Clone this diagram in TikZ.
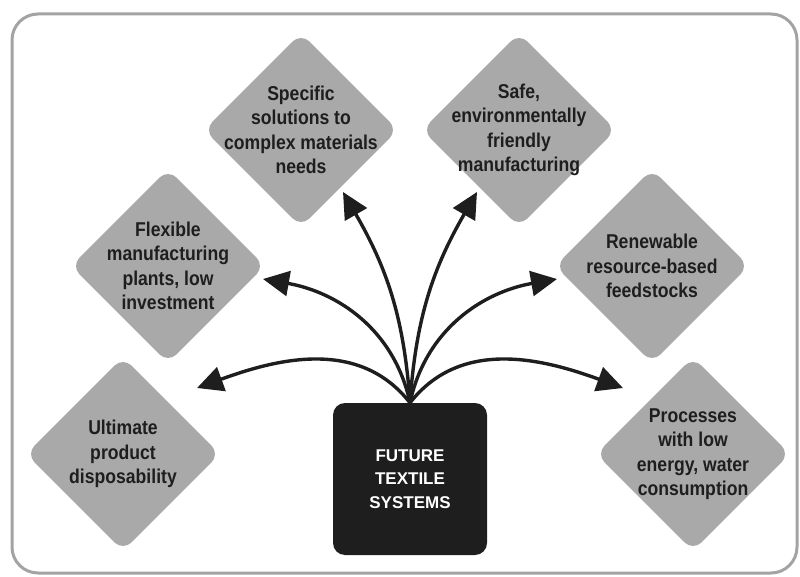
\documentclass[tikz,border=0pt]{standalone}
\usepackage{fontspec}
\setmainfont{Liberation Sans}
\newfontfamily\condsans[FakeStretch=0.88]{Liberation Sans}
\usetikzlibrary{shapes.geometric, arrows.meta}

\definecolor{framegray}{HTML}{A3A3A3}
\definecolor{diagray}{HTML}{A9A9A9}
\definecolor{ink}{HTML}{1E1E1E}

\tikzset{
  frame/.style={draw=framegray, line width=3pt, rounded corners=26pt},
  core/.style={rectangle, rounded corners=12pt, fill=ink, text=white,
    minimum width=154pt, minimum height=152pt, inner sep=0pt, align=center,
    font=\bfseries\fontsize{17}{23.5}\selectfont},
  dia/.style={diamond, aspect=1, fill=diagray, draw=none, rounded corners=12pt,
    minimum width=194pt, minimum height=194pt, inner sep=0pt},
  diatext/.style={align=center, text=ink, inner sep=0pt,
    font=\condsans\bfseries\fontsize{20}{24.4}\selectfont},
  arr/.style={draw=ink, line width=3.4pt,
    -{Triangle[length=26pt, width=25pt]}},
}

\begin{document}
\begin{tikzpicture}[x=1pt, y=1pt]
  \useasboundingbox (0,0) rectangle (800,576);

  % outer frame
  \draw[frame] (12,3) rectangle (797,562);

  % central block
  \node[core] (core) at (410,97) {FUTURE\\TEXTILE\\SYSTEMS};

  % goal diamonds
  \node[dia] (spec) at (301,446) {};
  \node[diatext] (specT) at (spec) {Specific\\solutions to\\complex materials\\needs};
  \node[dia] (safe) at (519,446) {};
  \node[diatext] (safeT) at (safe) {Safe,\\environmentally\\friendly\\manufacturing};
  \node[dia] (flex) at (168,310) {};
  \node[diatext] (flexT) at (flex) {Flexible\\manufacturing\\plants, low\\investment};
  \node[dia] (renew) at (652,310) {};
  \node[diatext] (renewT) at (renew) {Renewable\\resource-based\\feedstocks};
  \node[dia] (ult) at (123,122) {};
  \node[diatext] (ultT) at (ult) {Ultimate\\product\\disposability};
  \node[dia] (proc) at (693,122) {};
  \node[diatext] (procT) at (proc) {Processes\\with low\\energy, water\\consumption};

  % arrow tips
  \coordinate (ultTip) at (197,188);
  \coordinate (procTip) at (623,188);
  \coordinate (flexTip) at (263,297);
  \coordinate (renewTip) at (557,297);
  \coordinate (specTip) at (343,384);
  \coordinate (safeTip) at (477,384);

  % connectors fanning out of the block
  \draw[arr] (core.north) to[out=128, in=20] (ultTip);
  \draw[arr] (core.north) to[out=52, in=160] (procTip);
  \draw[arr] (core.north) to[out=102, in=-10] (flexTip);
  \draw[arr] (core.north) to[out=78, in=190] (renewTip);
  \draw[arr] (core.north) to[out=94, in=-60] (specTip);
  \draw[arr] (core.north) to[out=86, in=240] (safeTip);
\end{tikzpicture}
\end{document}
